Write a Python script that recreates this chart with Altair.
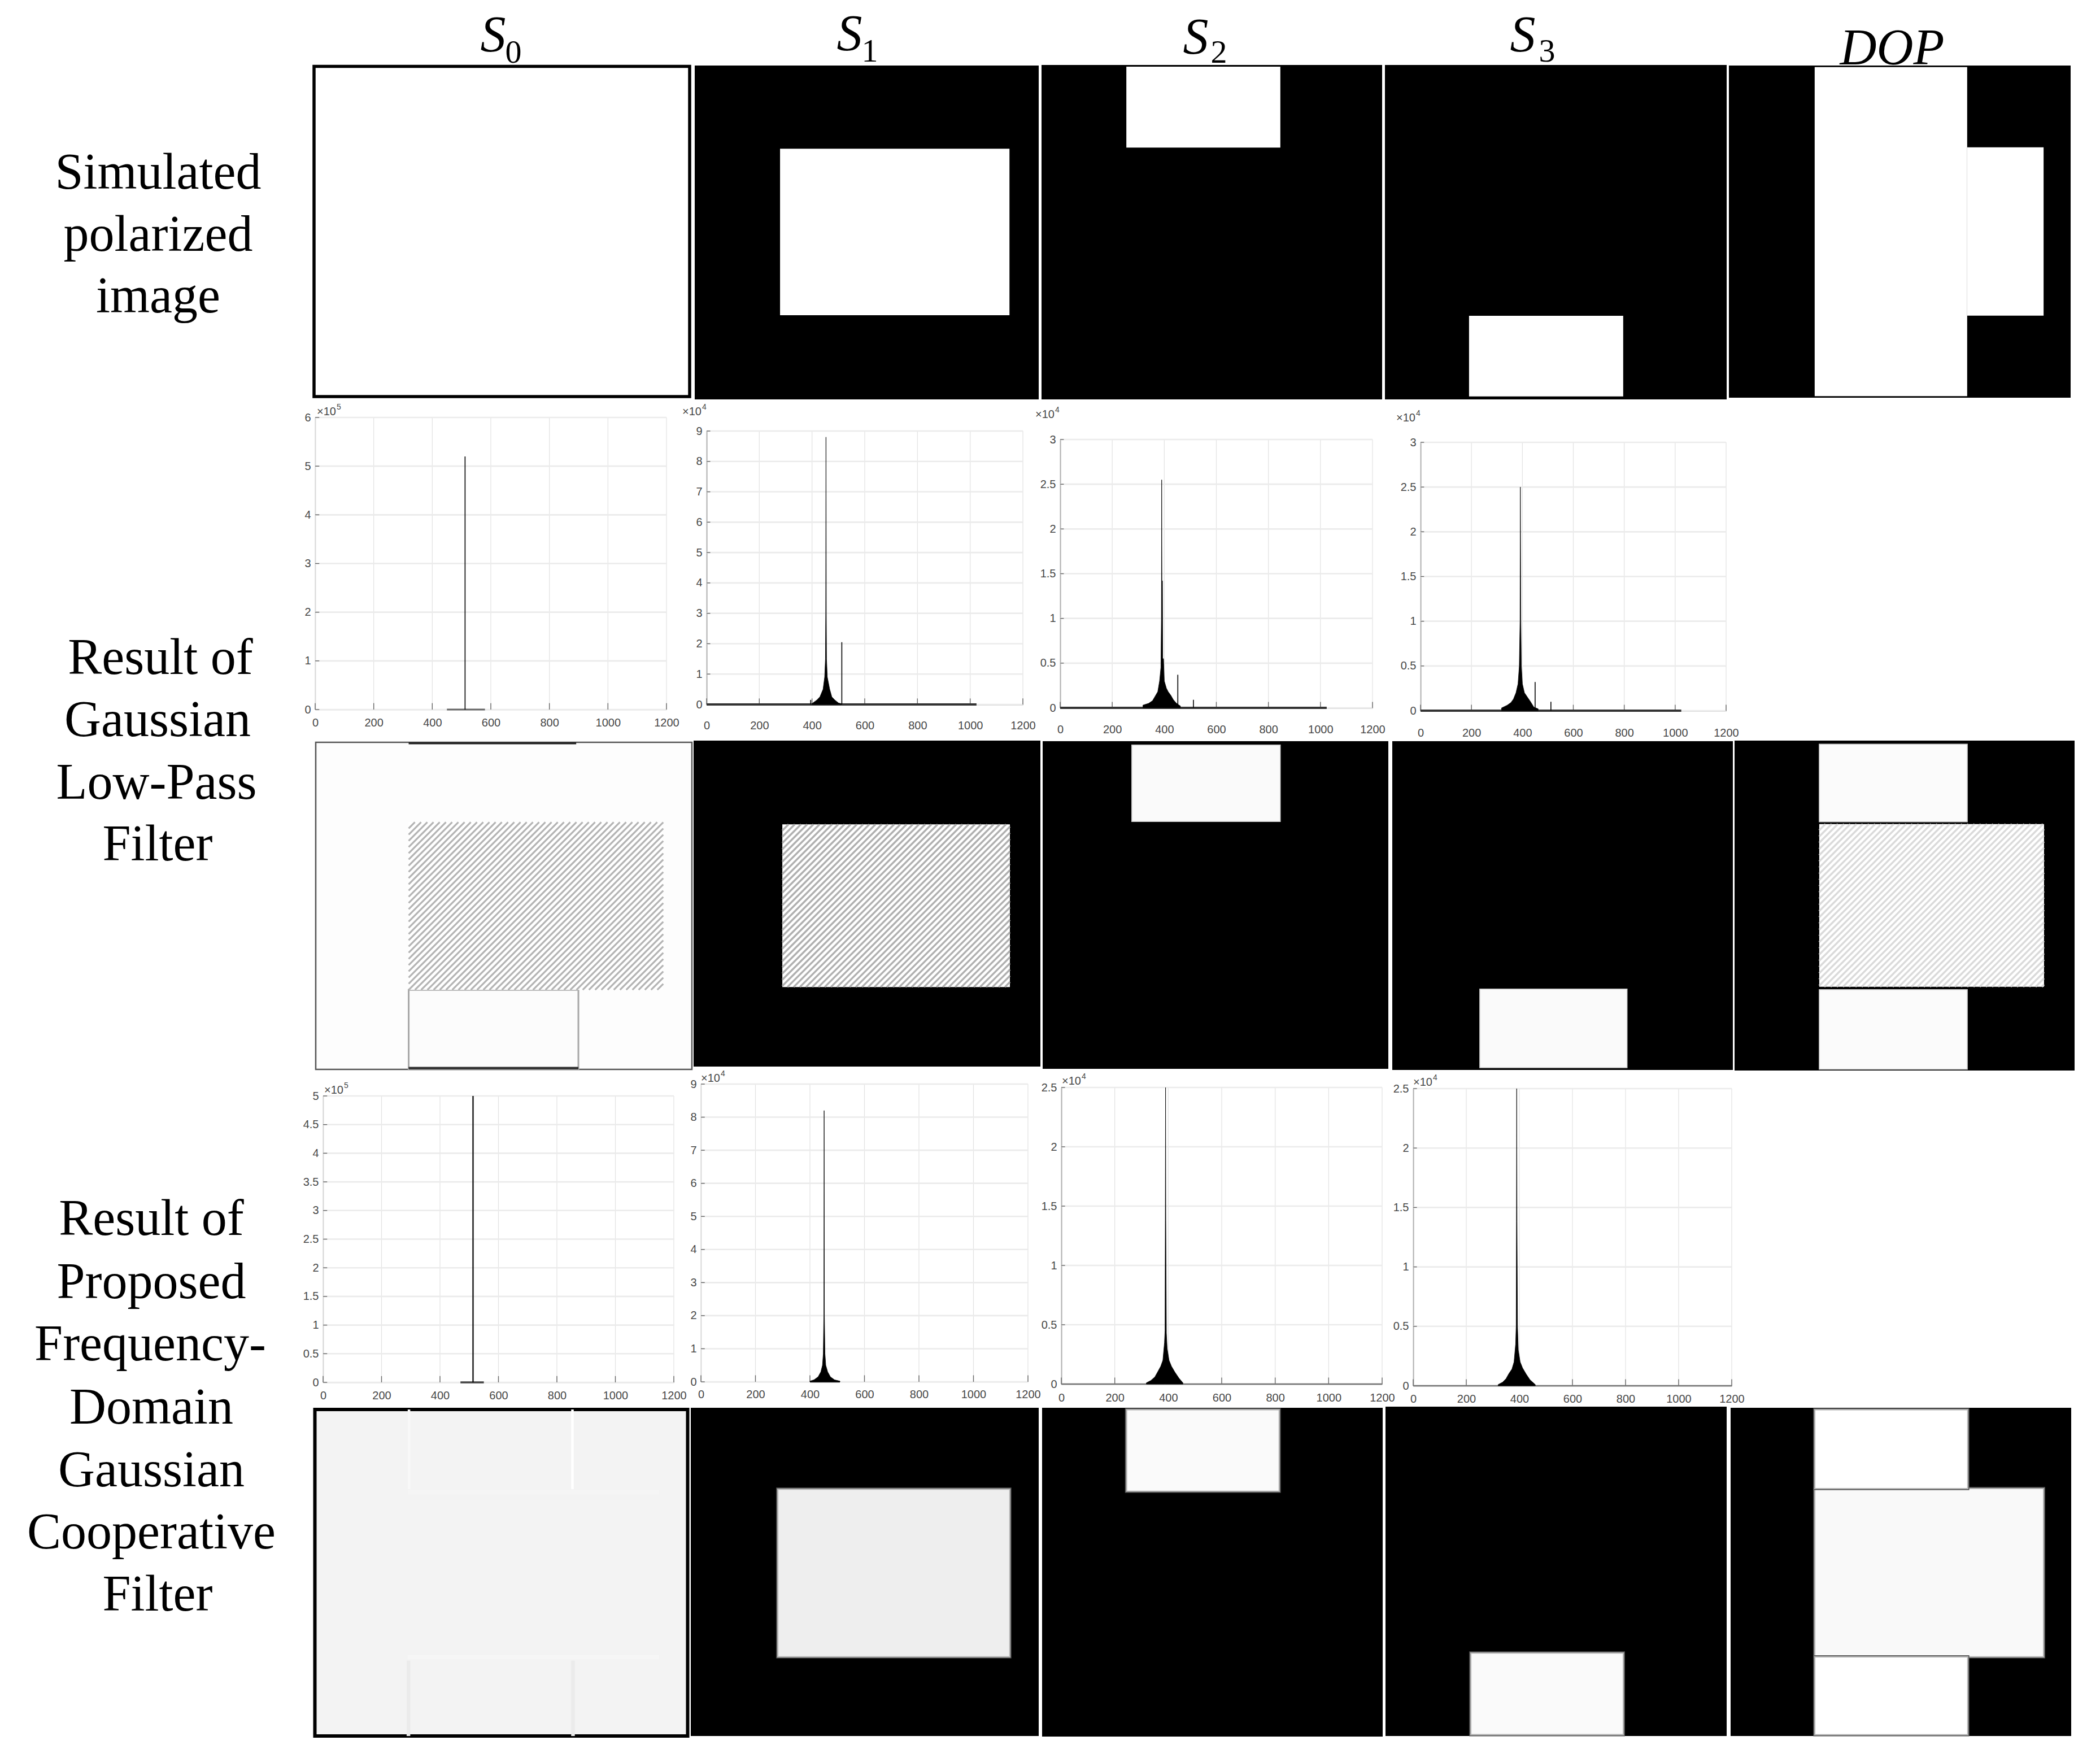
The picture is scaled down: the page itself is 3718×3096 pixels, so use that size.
import altair as alt
import pandas as pd

W, H = 3690, 3075
OFF = 8

# ---------- values ----------
X_TICKS = [0, 200, 400, 600, 800, 1000, 1200]
Y_INT6 = [0, 1, 2, 3, 4, 5, 6]
Y_INT9 = [0, 1, 2, 3, 4, 5, 6, 7, 8, 9]
Y_HALF3 = [0, 0.5, 1, 1.5, 2, 2.5, 3]
Y_HALF5 = [0, 0.5, 1, 1.5, 2, 2.5, 3, 3.5, 4, 4.5, 5]
Y_HALF25 = [0, 0.5, 1, 1.5, 2, 2.5]

# intensity histograms: bulge outline (bin, count) and isolated spikes (bin, count)
R2S1_X = [400, 419, 430, 442, 448, 451, 452, 453, 454, 455, 458, 467, 475, 486, 500, 512]
R2S1_Y = [0.03, 0.15, 0.25, 0.5, 0.9, 1.5, 3, 8.8, 3, 1.5, 0.9, 0.5, 0.25, 0.15, 0.05, 0.02]
R2S2_X = [318, 340, 355, 365, 375, 382, 387, 389, 390, 391, 393, 394, 397, 400, 408, 415, 425, 435, 447, 462]
R2S2_Y = [0.03, 0.05, 0.08, 0.13, 0.18, 0.3, 0.45, 1.0, 2.55, 1.42, 1.42, 0.55, 0.55, 0.3, 0.22, 0.18, 0.14, 0.09, 0.05, 0.02]
R2S3_X = [318, 340, 355, 365, 375, 383, 388, 391, 392, 394, 396, 400, 408, 420, 432, 445, 462]
R2S3_Y = [0.03, 0.06, 0.09, 0.13, 0.2, 0.3, 0.5, 1.0, 2.5, 1.0, 0.5, 0.3, 0.2, 0.15, 0.1, 0.04, 0.02]
R4S1_X = [400, 415, 430, 440, 446, 449, 451, 452, 453, 455, 458, 465, 475, 490, 510]
R4S1_Y = [0.02, 0.06, 0.15, 0.3, 0.5, 0.85, 2, 8.2, 2, 0.85, 0.5, 0.3, 0.15, 0.06, 0.02]
R4S2_X = [318, 335, 350, 360, 372, 380, 386, 388, 389, 390, 391, 393, 396, 403, 412, 425, 440, 455]
R4S2_Y = [0.01, 0.03, 0.06, 0.1, 0.15, 0.2, 0.35, 0.45, 1.38, 2.5, 1.38, 0.43, 0.3, 0.2, 0.15, 0.1, 0.05, 0.01]
R4S3_X = [320, 337, 350, 360, 372, 380, 386, 388, 389, 390, 391, 393, 396, 403, 412, 425, 440, 460]
R4S3_Y = [0.01, 0.03, 0.06, 0.1, 0.14, 0.2, 0.35, 0.5, 1.38, 2.5, 1.38, 0.5, 0.3, 0.2, 0.15, 0.1, 0.05, 0.01]

R2S0_SPIKES = ([512], [5.2])
R2S1_SPIKES = ([395, 513], [0.15, 2.05])
R2S2_SPIKES = ([452, 512], [0.37, 0.09])
R2S3_SPIKES = ([450, 512], [0.32, 0.1])
R4S0_SPIKES = ([513], [5.0])

ROW_LABEL_1 = ["Simulated", "polarized", "image"]
ROW_LABEL_2 = ["Result of", "Gaussian", "Low-Pass", "Filter"]
ROW_LABEL_3 = ["Result of", "Proposed", "Frequency-", "Domain", "Gaussian", "Cooperative", "Filter"]
COLUMN_SUBS = ["0", "1", "2", "3"]

# ---------- helpers ----------
def ident(lim):
    return alt.Scale(domain=[0, lim], range=[0, lim], nice=False, zero=False)


def text_layer(rows, font, size, style="normal", color="#000000", align="center"):
    df = pd.DataFrame(rows, columns=["t", "x", "y"])
    df["x"] -= OFF
    df["y"] -= OFF
    return alt.Chart(df).mark_text(font=font, fontSize=size, fontStyle=style, color=color,
                                   align=align, baseline="alphabetic").encode(
        x=alt.X("x:Q", scale=ident(W), axis=None),
        y=alt.Y("y:Q", scale=ident(H), axis=None),
        text="t:N")


def panel_scales(box):
    x0, x1, y0, y1 = box
    return (alt.Scale(domain=[0, 1024], range=[x0 - OFF, x1 - OFF], nice=False, zero=False),
            alt.Scale(domain=[0, 1024], range=[y0 - OFF, y1 - OFF], nice=False, zero=False))


def image_layer(box, rects):
    sx, sy = panel_scales(box)
    df = pd.DataFrame(rects, columns=["x", "x2", "y", "y2", "fill", "stroke", "sw"])
    df["o"] = range(len(df))
    return alt.Chart(df).mark_rect().encode(
        x=alt.X("x:Q", scale=sx, axis=None), x2="x2:Q",
        y=alt.Y("y:Q", scale=sy, axis=None), y2="y2:Q",
        fill=alt.Fill("fill:N", scale=None),
        stroke=alt.Stroke("stroke:N", scale=None),
        strokeWidth=alt.StrokeWidth("sw:Q", scale=None),
        order="o:Q")


def soft(x0, x1, y0, y1, fill):
    """A rectangle with a blurred-looking edge: a dark wide halo under a lighter thin one."""
    return [(x0, x1, y0, y1, fill, "#5a5a5a", 5.5), (x0, x1, y0, y1, fill, "#b4b4b4", 2.2)]


def hatch_layer(box, area, color, width=3.2, period=11.0):
    x0, x1, y0, y1 = area
    dx = period / ((box[1] - box[0]) / 1024)
    dy = period / ((box[3] - box[2]) / 1024)
    rows = []
    k = 1
    umax = (x1 - x0) / dx + (y1 - y0) / dy
    while k < umax:
        if x0 + k * dx <= x1:
            a = (x0 + k * dx, y0)
        else:
            a = (x1, y0 + (k - (x1 - x0) / dx) * dy)
        if y0 + k * dy <= y1:
            b = (x0, y0 + k * dy)
        else:
            b = (x0 + (k - (y1 - y0) / dy) * dx, y1)
        rows += [(k, a[0], a[1]), (k, b[0], b[1])]
        k += 1
    df = pd.DataFrame(rows, columns=["k", "x", "y"])
    sx, sy = panel_scales(box)
    return alt.Chart(df).mark_line(color=color, strokeWidth=width).encode(
        x=alt.X("x:Q", scale=sx, axis=None),
        y=alt.Y("y:Q", scale=sy, axis=None),
        detail="k:N")


def hist_layers(box, ymax, yticks, label_gap, bulge=None, spikes=None, base=None,
                axis_color="#666666", grid_h="#ebebeb", grid_v="#e2e2e2", spike_w=1.6):
    x0, x1, yt, yb = box
    sx = alt.Scale(domain=[0, 1200], range=[x0 - OFF, x1 - OFF], nice=False, zero=False)
    sy = alt.Scale(domain=[0, ymax], range=[yb - OFF, yt - OFF], nice=False, zero=False)
    layers = []
    # vertical grid lines carry both axes
    vg = pd.DataFrame({"x": X_TICKS, "y": [0] * len(X_TICKS), "y2": [ymax] * len(X_TICKS)})
    common = dict(grid=False, ticks=False, title=None, labelFont="Liberation Sans", labelFontSize=20,
                  labelColor="#484848", domainColor=axis_color, domainWidth=1.6, labelOverlap=False,
                  labelFlush=False)
    layers.append(alt.Chart(vg).mark_rule(color=grid_v, strokeWidth=1.2).encode(
        x=alt.X("x:Q", scale=sx,
                axis=alt.Axis(orient="bottom", offset=(yb - OFF) - H, values=X_TICKS, format="d",
                              labelPadding=label_gap - 10, **common)),
        y=alt.Y("y:Q", scale=sy,
                axis=alt.Axis(orient="left", offset=-(x0 - OFF), values=yticks, format="~g",
                              labelPadding=8, **common)),
        y2="y2:Q"))
    hg = pd.DataFrame({"y": yticks, "x": [0] * len(yticks), "x2": [1200] * len(yticks)})
    layers.append(alt.Chart(hg).mark_rule(color=grid_h, strokeWidth=2.6).encode(
        x=alt.X("x:Q", scale=sx, axis=None), x2="x2:Q",
        y=alt.Y("y:Q", scale=sy, axis=None)))
    # inward tick marks
    xt = pd.DataFrame({"x": X_TICKS, "y": [0] * len(X_TICKS), "y2": [ymax * 0.022] * len(X_TICKS)})
    layers.append(alt.Chart(xt).mark_rule(color="#666666", strokeWidth=1.4).encode(
        x=alt.X("x:Q", scale=sx, axis=None),
        y=alt.Y("y:Q", scale=sy, axis=None), y2="y2:Q"))
    yk = pd.DataFrame({"y": yticks, "x": [0] * len(yticks), "x2": [14] * len(yticks)})
    layers.append(alt.Chart(yk).mark_rule(color="#666666", strokeWidth=1.4).encode(
        x=alt.X("x:Q", scale=sx, axis=None), x2="x2:Q",
        y=alt.Y("y:Q", scale=sy, axis=None)))
    if base:
        b0, b1, col, wid = base
        bd = pd.DataFrame({"x": [b0], "x2": [b1], "y": [0]})
        layers.append(alt.Chart(bd).mark_rule(color=col, strokeWidth=wid).encode(
            x=alt.X("x:Q", scale=sx, axis=None), x2="x2:Q",
            y=alt.Y("y:Q", scale=sy, axis=None)))
    if bulge:
        bd = pd.DataFrame({"x": bulge[0], "y": bulge[1], "y2": [0] * len(bulge[0])})
        layers.append(alt.Chart(bd).mark_area(color="#000000", stroke="#000000", strokeWidth=0.8).encode(
            x=alt.X("x:Q", scale=sx, axis=None),
            y=alt.Y("y:Q", scale=sy, axis=None), y2="y2:Q"))
    if spikes:
        sd = pd.DataFrame({"x": spikes[0], "y": [0] * len(spikes[0]), "y2": spikes[1]})
        layers.append(alt.Chart(sd).mark_rule(color="#000000", strokeWidth=spike_w).encode(
            x=alt.X("x:Q", scale=sx, axis=None),
            y=alt.Y("y:Q", scale=sy, axis=None), y2="y2:Q"))
    return layers


BK = "#000000"
WH = "#ffffff"
NO = "transparent"
layers = []

# ---------- row 1: simulated images ----------
layers.append(image_layer((556, 1221, 117.5, 702), [(0, 1024, 0, 1024, WH, BK, 5.5)]))
b = (1230, 1839, 116, 707)
layers.append(image_layer(b, [(0, 1024, 0, 1024, BK, NO, 0), (254, 937, 255, 766, WH, NO, 0)]))
b = (1844, 2447, 115, 707)
layers.append(image_layer(b, [(0, 1024, 0, 1024, BK, NO, 0), (255, 718, 5, 253, WH, NO, 0)]))
b = (2452, 3057, 115, 707)
layers.append(image_layer(b, [(0, 1024, 0, 1024, BK, NO, 0), (252, 714, 768, 1015, WH, NO, 0)]))
b = (3061, 3666, 116, 704)
layers.append(image_layer(b, [(0, 1024, 0, 1024, BK, NO, 0), (257, 714, 5, 1019, WH, NO, 0),
                              (714, 943, 252, 771, WH, NO, 0)]))

# ---------- row 3: Gaussian low-pass images ----------
b = (559, 1225, 1314, 1893)
layers.append(image_layer(b, [(0, 1024, 0, 1024, "#fdfdfd", "#555555", 2.5),
                              (253, 709, 0, 6, "#222222", NO, 0),
                              (253, 715, 775, 1024, "#fcfcfc", "#a8a8a8", 3),
                              (253, 715, 1016, 1024, "#333333", NO, 0),
                              (253, 946, 250, 775, WH, NO, 0)]))
layers.append(hatch_layer(b, (253, 946, 250, 775), "#b4b4b4", 3.2))
b = (1228, 1842, 1311, 1888)
layers.append(image_layer(b, [(0, 1024, 0, 1024, BK, NO, 0), (262, 934, 263, 774, WH, NO, 0)]))
layers.append(hatch_layer(b, (262, 934, 263, 774), "#b0b0b0", 3.4))
b = (1846, 2458, 1312, 1892)
layers.append(image_layer(b, [(0, 1024, 0, 1024, BK, NO, 0), (264, 704, 12, 251, "#fafafa", "#cccccc", 1.5)]))
b = (2465, 3068, 1312, 1894)
layers.append(image_layer(b, [(0, 1024, 0, 1024, BK, NO, 0), (263, 706, 772, 1017, "#fafafa", "#cccccc", 1.5)]))
b = (3071, 3673, 1311, 1895)
layers.append(image_layer(b, [(0, 1024, 0, 1024, BK, NO, 0), (255, 701, 11, 252, "#fbfbfb", "#cccccc", 1.5),
                              (255, 932, 259, 764, WH, NO, 0), (255, 701, 773, 1020, "#fbfbfb", "#cccccc", 1.5)]))
layers.append(hatch_layer(b, (255, 932, 259, 764), "#dadada", 3.4))

# ---------- row 5: proposed filter images ----------
b = (557.5, 1217.5, 2495, 3073)
layers.append(image_layer(b, [(0, 1024, 0, 1024, "#f3f3f3", BK, 6),
                              (255, 262, 0, 250, "#f8f8f8", NO, 0), (704, 711, 0, 250, WH, NO, 0),
                              (255, 945, 252, 266, "#f5f5f5", NO, 0), (255, 945, 770, 784, "#f6f6f6", NO, 0),
                              (252, 262, 788, 1024, "#ebebeb", NO, 0), (704, 714, 788, 1024, "#ebebeb", NO, 0)]))
b = (1223, 1839, 2492, 3073)
layers.append(image_layer(b, [(0, 1024, 0, 1024, BK, NO, 0)] + soft(256, 939, 254, 777, "#eeeeee")))
b = (1845, 2448, 2492, 3074)
layers.append(image_layer(b, [(0, 1024, 0, 1024, BK, NO, 0)] + soft(254, 713, 6, 260, "#fafafa")))
b = (2453, 3057, 2490, 3073)
layers.append(image_layer(b, [(0, 1024, 0, 1024, BK, NO, 0)] + soft(256, 714, 766, 1020, "#fafafa")))
b = (3064, 3667, 2492, 3073)
layers.append(image_layer(b, [(0, 1024, 0, 1024, BK, NO, 0)] + soft(253, 941, 252, 777, "#f9f9f9")
                          + soft(253, 713, 6, 252, WH) + soft(253, 713, 777, 1020, WH)))

# ---------- row 2 and row 4: histograms ----------
layers += hist_layers((558, 1180, 739, 1256), 6, Y_INT6, 23, spikes=R2S0_SPIKES,
                      base=(450, 580, "#666666", 3), axis_color="#c8c8c8")
layers += hist_layers((1251, 1811, 763, 1247), 9, Y_INT9, 37, bulge=(R2S1_X, R2S1_Y), spikes=R2S1_SPIKES,
                      base=(0, 1024, "#333333", 4))
layers += hist_layers((1877, 2430, 778, 1253), 3, Y_HALF3, 38, bulge=(R2S2_X, R2S2_Y), spikes=R2S2_SPIKES,
                      base=(0, 1024, "#333333", 4))
layers += hist_layers((2515, 3056, 783, 1258), 3, Y_HALF3, 39, bulge=(R2S3_X, R2S3_Y), spikes=R2S3_SPIKES,
                      base=(0, 1024, "#333333", 4))
layers += hist_layers((572, 1193, 1940, 2447), 5, Y_HALF5, 23, spikes=R4S0_SPIKES, spike_w=2.2,
                      base=(470, 550, "#444444", 3.5), axis_color="#c0c0c0")
layers += hist_layers((1241, 1820, 1919, 2446), 9, Y_INT9, 22, bulge=(R4S1_X, R4S1_Y),
                      base=(400, 510, "#333333", 2.5), axis_color="#cccccc")
layers += hist_layers((1879, 2447, 1925, 2450), 2.5, Y_HALF25, 24, bulge=(R4S2_X, R4S2_Y),
                      base=(0, 1200, "#777777", 2.4))
layers += hist_layers((2502, 3066, 1927, 2453), 2.5, Y_HALF25, 23, bulge=(R4S3_X, R4S3_Y),
                      base=(0, 1200, "#777777", 2.4))

# ---------- multiplier notes ----------
mult = [(561, 735, "5"), (1208, 735, "4"), (1833, 740, "4"), (2472, 746, "4"),
        (574, 1936, "5"), (1241, 1915, "4"), (1880, 1920, "4"), (2502, 1922, "4")]
layers.append(text_layer([("×10", x, y) for x, y, _ in mult], "Liberation Sans", 20,
                         color="#484848", align="left"))
layers.append(text_layer([(e, x + 35, y - 10) for x, y, e in mult], "Liberation Sans", 14,
                         color="#484848", align="left"))

# ---------- row labels ----------
FONT = "Liberation Serif"
rows = []
rows += list(zip(ROW_LABEL_1, [280, 280, 280], [334, 444, 553]))
rows += list(zip(ROW_LABEL_2, [284, 279, 277, 279], [1193, 1303, 1414, 1523]))
rows += list(zip(ROW_LABEL_3, [268, 268, 266, 268, 268, 268, 279], [2186, 2298, 2408, 2520, 2631, 2741, 2851]))
layers.append(text_layer(rows, FONT, 90))

# ---------- column heads ----------
heads = [("S", 873, 91), ("S", 1504, 89), ("S", 2117, 95), ("S", 2696, 91)]
layers.append(text_layer(heads, FONT, 90, style="italic"))
subs = [(COLUMN_SUBS[0], 909, 111), (COLUMN_SUBS[1], 1540, 109), (COLUMN_SUBS[2], 2158, 111), (COLUMN_SUBS[3], 2739, 109)]
layers.append(text_layer(subs, FONT, 58))
layers.append(text_layer([("DOP", 3350, 114)], FONT, 90, style="italic"))

chart = alt.layer(*layers).resolve_scale(x="independent", y="independent").properties(
    width=W, height=H, padding=0, autosize=alt.AutoSizeParams(type="none"),
    background="#ffffff"
).configure_view(stroke=None)

chart.save("out.html", embed_options={"renderer": "svg", "actions": False})
